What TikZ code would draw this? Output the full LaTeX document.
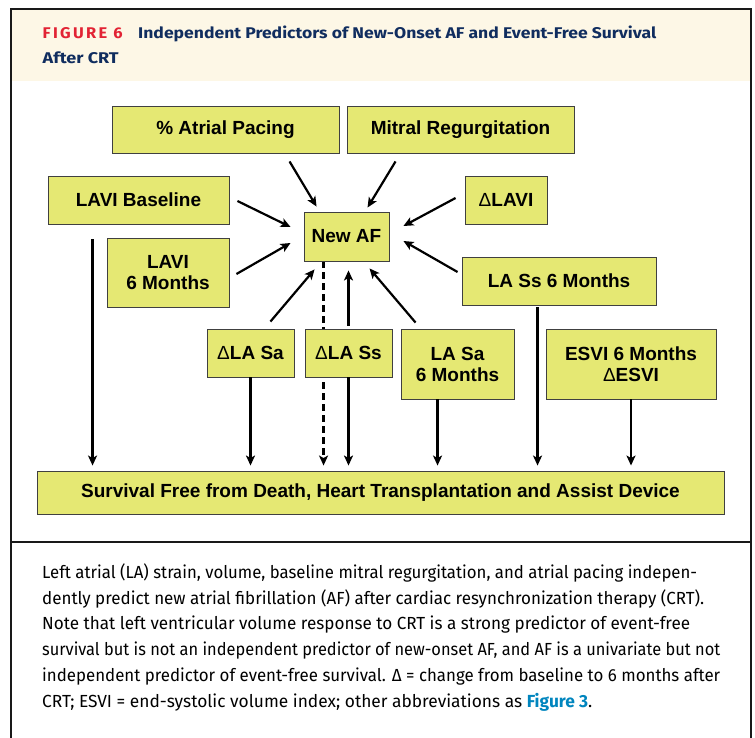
\documentclass[tikz,border=0pt]{standalone}
\usepackage{fontspec}
\usepackage{graphicx}
\setmainfont{Liberation Sans}
\newfontfamily\dfont{Liberation Sans}
\newfontfamily\capfont{Fira Sans}
\newfontfamily\figfont[LetterSpace=14]{Fira Sans}
\usetikzlibrary{arrows.meta,calc,backgrounds}
\definecolor{boxfill}{RGB}{229,232,115}
\definecolor{headfill}{RGB}{253,247,230}
\definecolor{figred}{RGB}{226,35,52}
\definecolor{navy}{RGB}{16,45,95}
\definecolor{linkblue}{RGB}{0,133,190}
\newcommand{\dlt}{{\dfont\mdseries Δ}}
\newcommand{\capline}[2]{\resizebox{#1pt}{\height}{\capfont\fontsize{17.5}{20}\selectfont\strut #2}}
\begin{document}
\begin{tikzpicture}[x=1pt,y=-1pt,
  box/.style={draw=black!75, line width=0.9pt, fill=boxfill, inner sep=0pt, align=center,
    font=\fontsize{19}{21}\selectfont\bfseries},
  arr/.style={line width=2.2pt, -{Stealth[length=10pt,width=9pt,inset=2.5pt]}},
  dasharr/.style={arr, dash pattern=on 7pt off 4pt},
  frame/.style={line width=1.5pt, black!90},
  capt/.style={anchor=base west, inner sep=0pt}]
\useasboundingbox (0,0) rectangle (755,738);
% header and frame
\fill[headfill] (11,9) rectangle (751,81);
\draw[frame] (11,738) -- (11,9) -- (751,9) -- (751,738);
\draw[frame] (11,542) -- (751,542);
% title
\node[capt] (fignum) at (42.5,38.5) {\resizebox{80pt}{\height}{\figfont\fontsize{15.5}{17}\selectfont\bfseries\color{figred}FIGURE 6}};
\node[capt] (title1) at (138,38.5) {\resizebox{518pt}{\height}{\capfont\fontsize{15.5}{17}\selectfont\bfseries\color{navy}Independent Predictors of New-Onset AF and Event-Free Survival}};
\node[capt] (title2) at (42.5,64) {\resizebox{76pt}{\height}{\capfont\fontsize{15.5}{17}\selectfont\bfseries\color{navy}After CRT}};
% boxes
\node[box, minimum width=227pt, minimum height=47pt] (pacing) at (225.5,129.5) {\% Atrial Pacing};
\node[box, minimum width=227pt, minimum height=47pt] (mitral) at (460.5,129.5) {Mitral Regurgitation};
\node[box, minimum width=181pt, minimum height=48pt] (lavib) at (138.5,200) {LAVI Baseline};
\node[box, minimum width=122pt, minimum height=69pt] (lavi6) at (168,272.5) {LAVI\\6 Months};
\node[box, minimum width=85pt, minimum height=49pt] (newaf) at (346.5,236.5) {New AF};
\node[box, minimum width=82pt, minimum height=48pt] (dlavi) at (506,200) {\dlt LAVI};
\node[box, minimum width=194pt, minimum height=48pt] (lass6) at (559,281) {LA Ss 6 Months};
\node[box, minimum width=87pt, minimum height=48pt] (dlasa) at (250.5,353) {\dlt LA Sa};
\node[box, minimum width=87pt, minimum height=48pt] (dlass) at (348.5,353) {\dlt LA Ss};
\node[box, minimum width=113pt, minimum height=70pt] (lasa6) at (457.5,364) {LA Sa\\6 Months};
\node[box, minimum width=170pt, minimum height=70pt] (esvi) at (631,364) {ESVI 6 Months\\\dlt ESVI};
\node[box, minimum width=687pt, minimum height=43pt] (surv) at (380.5,492.5) {Survival Free from Death, Heart Transplantation and Assist Device};
% arrows into New AF
\draw[arr] ($(pacing.south west)+(178,8)$) -- ($(newaf.north west)+(13,-5)$);
\draw[arr] ($(mitral.south west)+(49,8)$) -- ($(newaf.north west)+(64,-4)$);
\draw[arr] ($(lavib.east)+(8,1)$) -- ($(newaf.west)+(-13,-9.5)$);
\draw[arr] ($(lavi6.east)+(7,1.5)$) -- ($(newaf.west)+(-13,6.5)$);
\draw[arr] ($(dlavi.west)+(-9,-2)$) -- ($(newaf.east)+(14,-10.5)$);
\draw[arr] ($(lass6.west)+(-4,-9)$) -- ($(newaf.east)+(14,4.5)$);
\draw[arr] ($(dlasa.north east)+(-24,-7)$) -- ($(newaf.south west)+(11,8)$);
\draw[arr] ($(dlass.north)+(0,-3)$) -- ($(dlass.north |- newaf.south)+(0,9)$);
\draw[arr] ($(lasa6.north west)+(15,-6)$) -- ($(newaf.south west)+(66,7)$);
% arrows into survival
\coordinate (s1) at ($(lavib.south west)+(45,15)$);
\coordinate (s2) at (dlasa.south);
\coordinate (s3) at (dlass.south);
\coordinate (s4) at ($(lasa6.south west)+(37,0)$);
\coordinate (s5) at ($(lass6.south west)+(76,2)$);
\coordinate (s6) at (esvi.south);
\coordinate (s7) at ($(newaf.south west)+(20,0)$);
\foreach \s in {s1,s2,s3,s4,s5,s6}
  \draw[arr] (\s) -- ($(\s |- surv.north)+(0,-5)$);
\begin{pgfonlayer}{background}
\draw[dasharr] (s7) -- ($(s7 |- surv.north)+(0,-5)$);
\end{pgfonlayer}
% caption
\node[capt] (c1) at (42,578.5) {\capline{655}{Left atrial (LA) strain, volume, baseline mitral regurgitation, and atrial pacing indepen-}};
\node[capt] (c2) at (42,604.2) {\capline{662}{dently predict new atrial fibrillation (AF) after cardiac resynchronization therapy (CRT).}};
\node[capt] (c3) at (42,629.9) {\capline{648}{Note that left ventricular volume response to CRT is a strong predictor of event-free}};
\node[capt] (c4) at (42,655.6) {\capline{678}{survival but is not an independent predictor of new-onset AF, and AF is a univariate but not}};
\node[capt] (c5) at (42,681.3) {\capline{678}{independent predictor of event-free survival. Δ = change from baseline to 6 months after}};
\node[capt] (c6) at (42,707) {\capline{550}{CRT; ESVI = end-systolic volume index; other abbreviations as {\bfseries\color{linkblue}Figure 3}.}};
\end{tikzpicture}
\end{document}
